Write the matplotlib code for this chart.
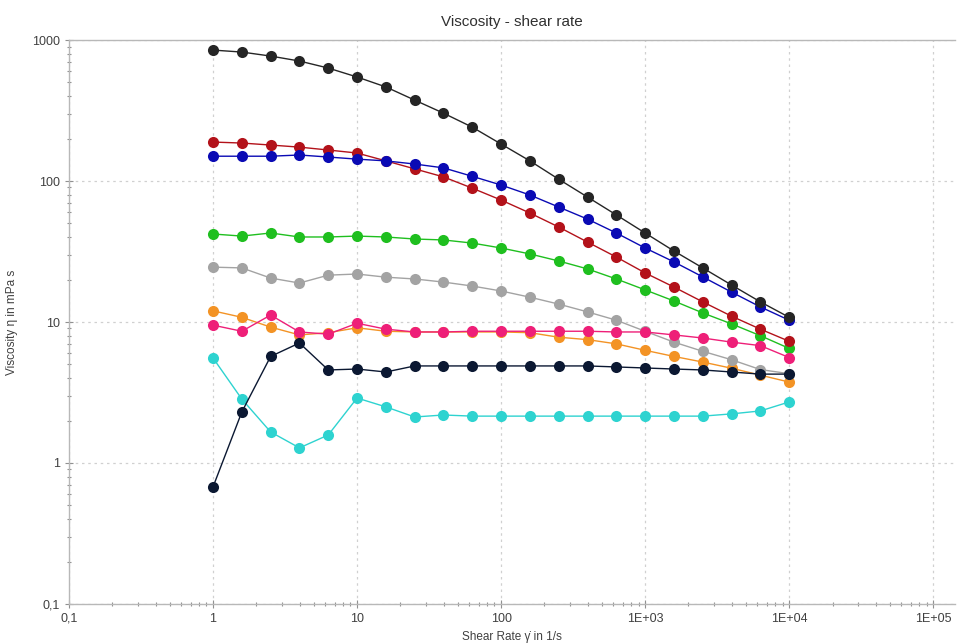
import matplotlib.pyplot as plt
from matplotlib.ticker import FixedLocator, LogLocator, NullFormatter

plt.rcParams['font.family'] = ['Liberation Sans', 'DejaVu Sans']

# shear rates, 5 points per decade from 1 to 1E+04
shear_rate = [1, 1.585, 2.512, 3.981, 6.31, 10, 15.85, 25.12, 39.81, 63.1,
              100, 158.5, 251.2, 398.1, 631, 1000, 1585, 2512, 3981, 6310, 10000]

visc_black = [849, 822, 770, 710, 633, 547, 465, 375, 303, 241,
              183, 139, 103, 77, 57.5, 42.8, 31.9, 24.2, 18.3, 13.9, 10.8]
visc_blue = [150, 150, 150, 153, 148, 143, 139, 132, 124, 108,
             93.7, 79.6, 65.4, 53.7, 42.8, 33.5, 26.7, 20.9, 16.3, 12.8, 10.3]
visc_red = [189, 186, 180, 174, 166, 158, 139, 122, 107, 89,
            73.3, 59.3, 47.2, 36.9, 28.9, 22.3, 17.7, 13.9, 11.0, 8.9, 7.3]
visc_green = [42.1, 40.7, 42.8, 40.1, 40.1, 40.7, 40.1, 38.8, 38.2, 36.3,
              33.5, 30.4, 27.1, 23.8, 20.2, 16.9, 14.1, 11.6, 9.7, 8.0, 6.5]
visc_gray = [24.5, 24.2, 20.5, 18.9, 21.5, 21.9, 20.8, 20.2, 19.2, 18.0,
             16.6, 15.0, 13.4, 11.8, 10.3, 8.6, 7.2, 6.2, 5.4, 4.6, 4.3]
visc_orange = [12.0, 10.8, 9.2, 8.1, 8.4, 9.1, 8.6, 8.5, 8.5, 8.5,
               8.5, 8.4, 7.8, 7.5, 7.0, 6.3, 5.7, 5.2, 4.7, 4.2, 3.75]
visc_pink = [9.5, 8.6, 11.2, 8.5, 8.2, 9.8, 8.9, 8.5, 8.5, 8.6,
             8.6, 8.6, 8.6, 8.6, 8.5, 8.5, 8.1, 7.7, 7.2, 6.8, 5.6]
visc_navy = [0.676, 2.30, 5.7, 7.1, 4.57, 4.64, 4.42, 4.88, 4.88, 4.88,
             4.88, 4.88, 4.88, 4.88, 4.80, 4.72, 4.64, 4.57, 4.42, 4.27, 4.27]
visc_cyan = [5.56, 2.84, 1.66, 1.28, 1.58, 2.89, 2.50, 2.12, 2.19, 2.15,
             2.15, 2.15, 2.15, 2.15, 2.15, 2.15, 2.15, 2.15, 2.23, 2.34, 2.71]

series = [
    (visc_cyan, '#2ed3d0'),
    (visc_orange, '#f39325'),
    (visc_gray, '#a3a3a3'),
    (visc_green, '#1fbf1f'),
    (visc_red, '#b3121a'),
    (visc_blue, '#0a0ab4'),
    (visc_black, '#252525'),
    (visc_pink, '#ee1f78'),
    (visc_navy, '#0b1832'),
]

x_ticks = [0.1, 1, 10, 100, 1000, 10000, 100000]
x_tick_labels = ['0,1', '1', '10', '100', '1E+03', '1E+04', '1E+05']
y_ticks = [0.1, 1, 10, 100, 1000]
y_tick_labels = ['0,1', '1', '10', '100', '1000']

fig = plt.figure(figsize=(9.58, 6.43), dpi=100)
ax = fig.add_axes([0.072, 0.0607, 0.925, 0.877])

for values, color in series:
    ax.plot(shear_rate, values, color=color, linewidth=1.0, marker='o',
            markersize=8, markeredgewidth=0, zorder=3)

ax.set_xscale('log')
ax.set_yscale('log')
ax.set_xlim(0.1, 1.42e5)
ax.set_ylim(0.1, 1000)

ax.xaxis.set_major_locator(FixedLocator(x_ticks))
ax.set_xticklabels(x_tick_labels)
ax.yaxis.set_major_locator(FixedLocator(y_ticks))
ax.set_yticklabels(y_tick_labels)
ax.xaxis.set_minor_locator(LogLocator(base=10, subs=range(2, 10), numticks=20))
ax.yaxis.set_minor_locator(LogLocator(base=10, subs=range(2, 10), numticks=20))
ax.xaxis.set_minor_formatter(NullFormatter())
ax.yaxis.set_minor_formatter(NullFormatter())

ax.tick_params(which='major', direction='inout', length=6, width=0.8,
               color='#909090', labelsize=9, labelcolor='#404040')
ax.tick_params(which='minor', direction='inout', length=3, width=0.8,
               color='#909090')

ax.grid(True, which='major', linestyle=(0, (2, 3)), color='#d0d0d0', linewidth=0.9)

for side in ['left', 'bottom', 'top']:
    ax.spines[side].set_color('#b8b8b8')
    ax.spines[side].set_linewidth(1.0)
ax.spines['right'].set_visible(False)

ax.set_title('Viscosity - shear rate', fontsize=11, color='#303030', pad=10)
ax.set_xlabel('Shear Rate γ̇ in 1/s', fontsize=8.5, color='#404040', labelpad=4)
ax.set_ylabel('Viscosity η in mPa s', fontsize=8.5, color='#404040', labelpad=10)

plt.savefig('out.png', dpi=100)
plt.close()
